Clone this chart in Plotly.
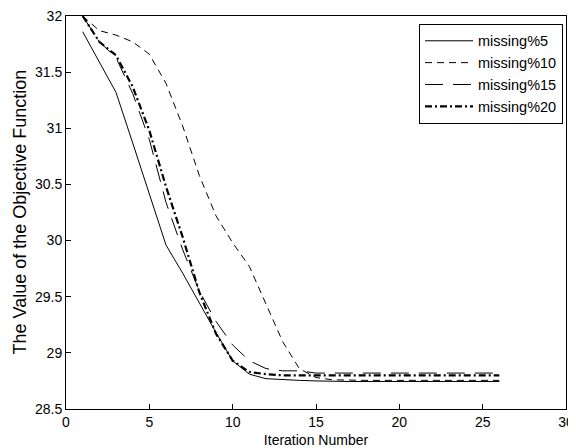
import plotly.graph_objects as go

iterations = list(range(1, 27))
missing5 = [31.86, 31.59, 31.32, 30.87, 30.42, 29.96, 29.71, 29.44, 29.18, 28.93,
            28.81, 28.77, 28.76, 28.755, 28.75] + [28.745] * 11
missing10 = [32.0, 31.87, 31.83, 31.77, 31.66, 31.40, 31.02, 30.58, 30.22, 29.98,
             29.77, 29.43, 29.10, 28.86, 28.78, 28.76] + [28.755] * 10
missing15 = [32.0, 31.77, 31.63, 31.31, 30.90, 30.34, 29.92, 29.55, 29.28, 29.07,
             28.93, 28.86, 28.84, 28.84, 28.82] + [28.82] * 11
missing20 = [32.0, 31.77, 31.65, 31.37, 30.98, 30.48, 30.03, 29.54, 29.17, 28.93,
             28.83, 28.81] + [28.80] * 14

series_names = ["missing%5", "missing%10", "missing%15", "missing%20"]
x_ticks = [0, 5, 10, 15, 20, 25, 30]
y_ticks = [28.5, 29, 29.5, 30, 30.5, 31, 31.5, 32]
y_title = "The Value of the Objective Function"

styles = [
    dict(color="black", width=1, dash="solid"),
    dict(color="black", width=1, dash="7px,5px"),
    dict(color="black", width=1, dash="18px,10px"),
    dict(color="black", width=2.2, dash="7px,3px,2px,3px"),
]

fig = go.Figure()
for name, vals, st in zip(series_names, [missing5, missing10, missing15, missing20], styles):
    fig.add_trace(go.Scatter(x=iterations, y=vals, mode="lines", name=name, line=st))

font_family = "Liberation Sans, Arial, sans-serif"
axis_common = dict(
    showline=True, linecolor="black", linewidth=1, mirror=True,
    ticks="inside", ticklen=5, tickcolor="black", showgrid=False, zeroline=False,
    automargin=False, ticklabeloverflow="allow",
    tickfont=dict(family=font_family, size=14, color="black"),
)
fig.update_layout(
    width=568, height=440,
    margin=dict(l=58, r=10, t=8, b=39),
    paper_bgcolor="white", plot_bgcolor="white",
    font=dict(family=font_family, size=14, color="black"),
    xaxis=dict(range=[0, 30], tickvals=x_ticks,
               title=dict(text="Iteration Number", standoff=6,
                          font=dict(family=font_family, size=14, color="black")),
               **axis_common),
    yaxis=dict(range=[28.5, 32], tickvals=y_ticks, **axis_common),
    legend=dict(x=0.994, y=0.98, xanchor="right", yanchor="top",
                bgcolor="white", bordercolor="black", borderwidth=1,
                itemwidth=48,
                font=dict(family=font_family, size=14.5, color="black")),
    showlegend=True,
    annotations=[dict(text=y_title, textangle=-90, xref="paper", yref="paper",
                      x=-0.094, y=0.5, xanchor="center", yanchor="middle",
                      showarrow=False,
                      font=dict(family=font_family, size=18, color="black"))],
)
fig.write_html("out.html")
